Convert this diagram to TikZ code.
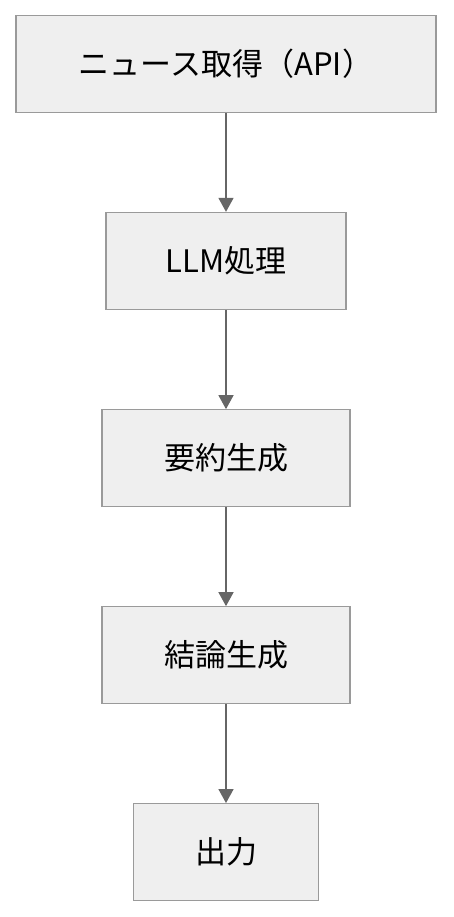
\documentclass[tikz,border=0pt]{standalone}
\usepackage{fontspec}
\setmainfont{Noto Sans CJK JP}
\usetikzlibrary{arrows.meta}
\definecolor{boxfill}{HTML}{EFEFEF}
\definecolor{boxline}{HTML}{9A9A9A}
\definecolor{arrowc}{HTML}{666666}
\tikzset{
  stepbox/.style={draw=boxline, fill=boxfill, line width=1.3pt, minimum height=97pt, inner sep=0pt, font=\fontsize{31pt}{35pt}\selectfont},
  flow/.style={draw=arrowc, line width=1.5pt, -{Triangle[width=15pt,length=14pt]}}
}
\begin{document}
\begin{tikzpicture}[x=1pt,y=1pt]
\useasboundingbox (0,0) rectangle (453,-917);
\node[stepbox, minimum width=420pt] (a) at (226,-64.2) {ニュース取得（API）};
\node[stepbox, minimum width=240pt] (b) at (226,-261) {LLM処理};
\node[stepbox, minimum width=248pt] (c) at (226,-458.3) {要約生成};
\node[stepbox, minimum width=248pt] (d) at (226,-655.3) {結論生成};
\node[stepbox, minimum width=185pt] (e) at (226,-852.2) {出力};
\draw[flow] (a) -- (b);
\draw[flow] (b) -- (c);
\draw[flow] (c) -- (d);
\draw[flow] (d) -- (e);
\end{tikzpicture}
\end{document}
